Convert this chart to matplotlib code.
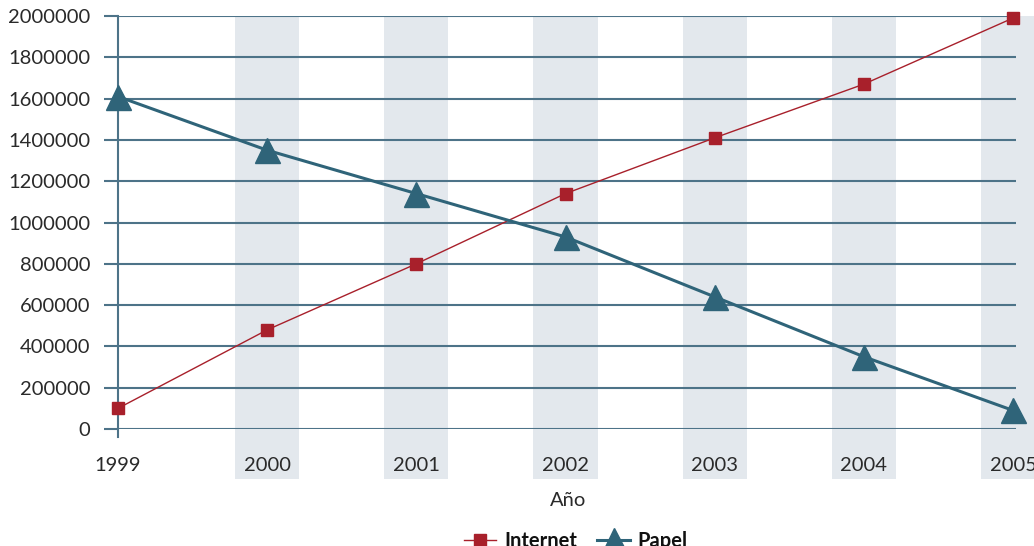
import matplotlib.pyplot as plt
from matplotlib.patches import Rectangle
from matplotlib.lines import Line2D
from matplotlib.transforms import blended_transform_factory

years = [1999, 2000, 2001, 2002, 2003, 2004, 2005]
internet = [100000, 480000, 800000, 1140000, 1410000, 1670000, 1990000]
papel = [1610000, 1350000, 1140000, 930000, 640000, 350000, 90000]
yticks = list(range(0, 2000001, 200000))

plt.rcParams['font.family'] = ['Lato', 'DejaVu Sans']
grid_col = '#4d7388'
red = '#a8202b'
teal = '#2f6479'
txt = '#2a2a2a'

fig = plt.figure(figsize=(10.34, 5.46), dpi=100)
ax = fig.add_axes([118 / 1034, 1 - 429 / 546, (1016 - 118) / 1034, (429 - 16) / 546])
ax.set_xlim(1999, 2005.02)
ax.set_ylim(0, 2000000)

# shaded bands behind every year from 2000, reaching under the tick labels
trans = blended_transform_factory(ax.transData, ax.transAxes)
for yr in years[1:]:
    ax.add_patch(Rectangle((yr - 0.215, -0.12), 0.43, 1.12, transform=trans,
                           facecolor='#e3e8ed', edgecolor='none', zorder=0, clip_on=False))

for v in yticks:
    ax.axhline(v, color=grid_col, lw=1.5, zorder=1)
ax.add_line(Line2D([1999, 1999], [-0.02, 1], transform=trans, color=grid_col,
                   lw=1.5, clip_on=False, zorder=1))

ax.plot(years, internet, color=red, lw=1, marker='s', ms=9, mec=red, mfc=red,
        zorder=3, clip_on=False, label='Internet')
ax.plot(years, papel, color=teal, lw=2.2, marker='^', ms=18, mec=teal, mfc=teal,
        zorder=4, clip_on=False, label='Papel')

for s in ax.spines.values():
    s.set_visible(False)
ax.set_yticks(yticks)
ax.set_yticklabels([str(v) for v in yticks])
ax.set_xticks(years)
ax.set_xticklabels([str(y) for y in years])
ax.tick_params(axis='y', length=10, color=grid_col, width=1.5, pad=10,
               labelsize=14.5, labelcolor=txt)
ax.tick_params(axis='x', length=0, pad=20, labelsize=14.5, labelcolor=txt)

fig.text(568 / 1034, 1 - 500 / 546, 'Año', ha='center', va='center',
         fontsize=14.5, color=txt)
leg = fig.legend(loc='center', bbox_to_anchor=(576 / 1034, 1 - 541 / 546), ncol=2,
                 frameon=False, prop={'weight': 'bold', 'size': 14.5},
                 handlelength=1.6, columnspacing=1.0, handletextpad=0.4)
for t in leg.get_texts():
    t.set_color('#111111')

fig.savefig('out.png', dpi=100)
